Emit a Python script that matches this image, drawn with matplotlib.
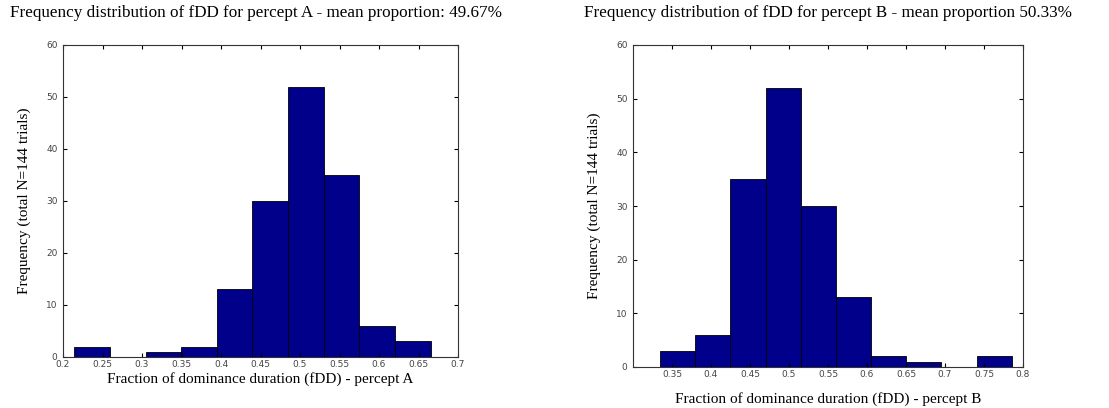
import numpy as np
import matplotlib.pyplot as plt

# Histogram data (10 bins per panel)
edges_a = [0.2143, 0.2594, 0.3045, 0.3496, 0.3947, 0.4398,
           0.4849, 0.5300, 0.5751, 0.6202, 0.6653]
counts_a = [2, 0, 1, 2, 13, 30, 52, 35, 6, 3]

edges_b = [0.3347, 0.3798, 0.4249, 0.4700, 0.5151, 0.5602,
           0.6053, 0.6504, 0.6955, 0.7406, 0.7857]
counts_b = [3, 6, 35, 52, 30, 13, 2, 1, 0, 2]

xticks_a = [0.2, 0.25, 0.3, 0.35, 0.4, 0.45, 0.5, 0.55, 0.6, 0.65, 0.7]
xticks_b = [0.35, 0.4, 0.45, 0.5, 0.55, 0.6, 0.65, 0.7, 0.75, 0.8]
yticks = [0, 10, 20, 30, 40, 50, 60]

title_a = 'Frequency distribution of fDD for percept A - mean proportion: 49.67%'
title_b = 'Frequency distribution of fDD for percept B - mean proportion 50.33%'
ylabel = 'Frequency (total N=144 trials)'
xlabel_a = 'Fraction of dominance duration (fDD) - percept A'
xlabel_b = 'Fraction of dominance duration (fDD) - percept B'

W, H = 1109, 408
fig = plt.figure(figsize=(W / 100, H / 100), dpi=100)

serif = 'Liberation Serif'
bar_color = '#00008b'


def draw(ax, edges, counts, xlim, xticks, xlabel, title, label_y, title_x):
    widths = np.diff(edges)
    ax.bar(edges[:-1], counts, width=widths, align='edge',
           color=bar_color, edgecolor='black', linewidth=0.6)
    ax.set_xlim(*xlim)
    ax.set_ylim(0, 60)
    ax.set_xticks(xticks)
    ax.set_xticklabels([f'{t:g}' for t in xticks])
    ax.set_yticks(yticks)
    ax.tick_params(direction='in', top=True, right=True, length=3,
                   labelsize=6.5, labelcolor='#444444')
    ax.tick_params(axis='x', pad=2)
    ax.tick_params(axis='y', pad=4)
    for s in ax.spines.values():
        s.set_linewidth(0.8)
        s.set_color('#333333')
    ax.set_xlabel(xlabel, fontfamily=serif, fontsize=11)
    ax.set_ylabel(ylabel, fontfamily=serif, fontsize=11)
    ax.xaxis.set_label_coords(0.5, label_y)
    ax.yaxis.set_label_coords(-0.082, 0.5)
    fig.text(title_x / W, 1 - 13 / H, title, fontfamily=serif, fontsize=12.3,
             ha='center', va='center')


ax1 = fig.add_axes([63 / W, 1 - 357 / H, 395 / W, 312 / H])
draw(ax1, edges_a, counts_a, (0.2, 0.7), xticks_a, xlabel_a, title_a, -0.048, 256)

ax2 = fig.add_axes([633 / W, 1 - 367 / H, 390 / W, 322 / H])
draw(ax2, edges_b, counts_b, (0.3, 0.8), xticks_b, xlabel_b, title_b, -0.078, 828)

fig.savefig('out.png', dpi=100)
